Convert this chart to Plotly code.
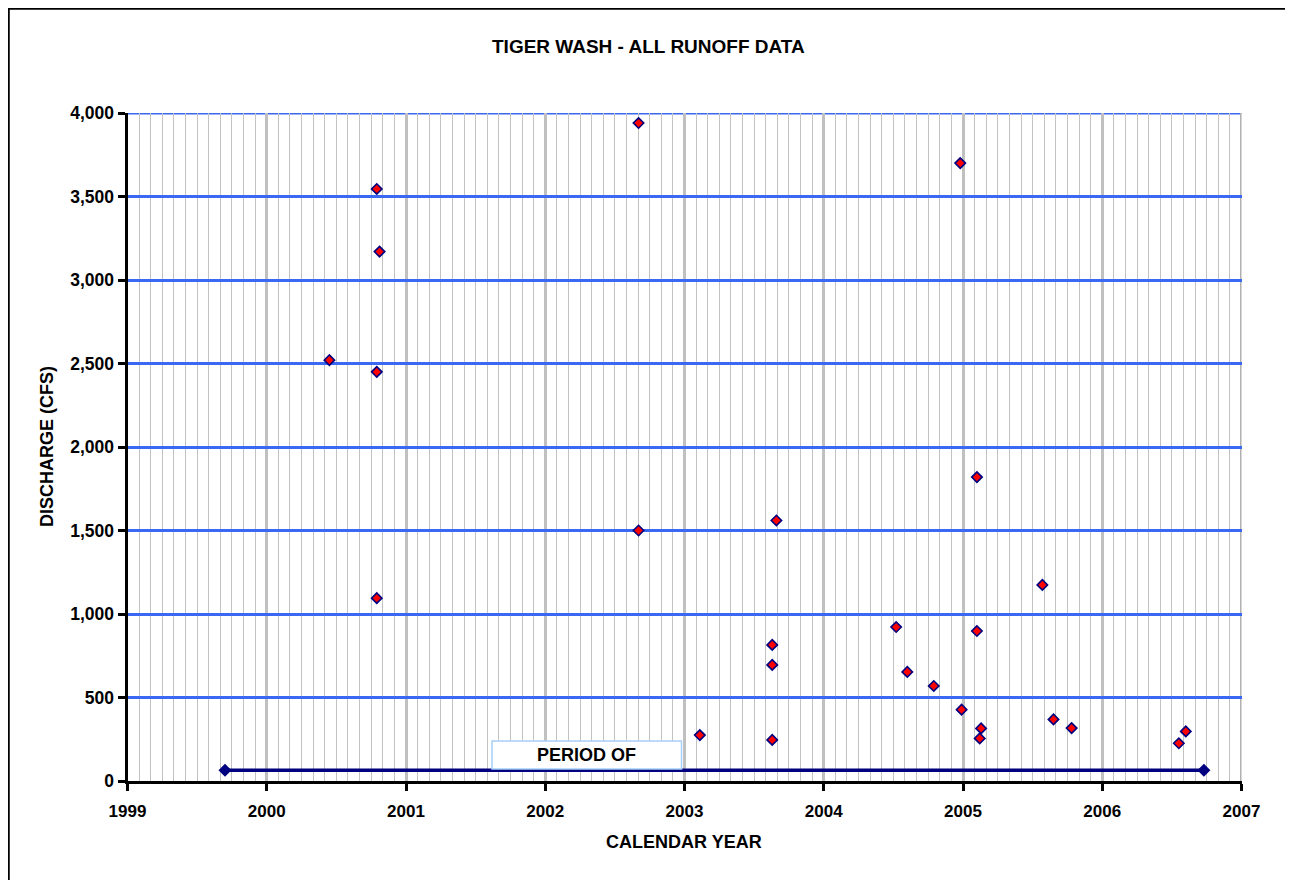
import plotly.graph_objects as go

# ---- data ----
years = [2000.45, 2000.79, 2000.81, 2000.79, 2000.79, 2002.67, 2002.67, 2003.11,
         2003.63, 2003.63, 2003.63, 2003.66, 2004.52, 2004.60, 2004.79, 2004.98,
         2004.99, 2005.10, 2005.10, 2005.13, 2005.12, 2005.57, 2005.65, 2005.78,
         2006.55, 2006.60]
discharge = [2520, 3545, 3170, 2450, 1095, 3940, 1500, 275,
             815, 695, 246, 1560, 922, 653, 569, 3700,
             427, 1820, 898, 315, 255, 1174, 369, 317,
             226, 297]
period_x = [1999.70, 2006.73]
period_y = [65, 65]
x_ticks = [1999, 2000, 2001, 2002, 2003, 2004, 2005, 2006, 2007]
y_ticks = [0, 500, 1000, 1500, 2000, 2500, 3000, 3500, 4000]

W, H = 1293, 880
OFF = 8  # page body margin
FONT = "Arial, Liberation Sans, sans-serif"
BLUE = "#3A68F2"

def px(x):
    return (x - OFF) / W

def py(y):
    return 1 - (y - OFF) / H

fig = go.Figure()

fig.add_trace(go.Scatter(
    x=period_x, y=period_y, mode="lines+markers",
    line=dict(color="#000080", width=3.5),
    marker=dict(symbol="diamond", size=10, color="#000080"),
    showlegend=False, hoverinfo="skip"))

fig.add_trace(go.Scatter(
    x=years, y=discharge, mode="markers",
    marker=dict(symbol="diamond", size=8, color="#FF0000",
                line=dict(color="#000080", width=1.6)),
    showlegend=False))

fig.update_layout(
    template="none",
    width=W, height=H,
    margin=dict(l=0, r=0, t=0, b=0, autoexpand=False),
    showlegend=False,
    paper_bgcolor="white", plot_bgcolor="white",
    font=dict(family=FONT, color="black"),
    xaxis=dict(
        domain=[px(127.5), px(1241.5)],
        range=[x_ticks[0], x_ticks[-1]], tickvals=x_ticks,
        ticktext=[str(v) for v in x_ticks],
        showgrid=True, gridcolor="#C0C0C0", gridwidth=3,
        minor=dict(dtick=1/12, tick0=1999, showgrid=True,
                   gridcolor="#C2C2C2", gridwidth=1, ticks=""),
        showline=True, linecolor="black", linewidth=3,
        ticks="outside", ticklen=7, tickwidth=3, tickcolor="black",
        ticklabelstandoff=6,
        tickfont=dict(size=17, family=FONT, color="black", weight="bold"),
        zeroline=False, fixedrange=True, automargin=False,
    ),
    yaxis=dict(
        domain=[py(781), py(113)],
        range=[y_ticks[0], y_ticks[-1]], tickvals=y_ticks,
        ticktext=[f"{v:,}" for v in y_ticks],
        showgrid=True, gridcolor=BLUE, gridwidth=3,
        showline=True, linecolor="black", linewidth=3,
        ticks="outside", ticklen=7, tickwidth=3, tickcolor="black",
        tickfont=dict(size=17.5, family=FONT, color="black", weight="bold"),
        zeroline=False, fixedrange=True, automargin=False,
    ),
    shapes=[
        # gridlines at the far edges (top 4,000 line and right 2007 line)
        dict(type="line", xref="x", yref="y", x0=x_ticks[0], x1=x_ticks[-1],
             y0=y_ticks[-1], y1=y_ticks[-1], line=dict(color=BLUE, width=3),
             layer="below"),
        dict(type="line", xref="x", yref="y", x0=x_ticks[-1], x1=x_ticks[-1],
             y0=y_ticks[0], y1=y_ticks[-1], line=dict(color="#B0B0B0", width=3),
             layer="below"),
        # outer frame
        dict(type="rect", xref="paper", yref="paper",
             x0=px(8.5), x1=px(1287), y0=py(895), y1=py(8.5),
             line=dict(color="black", width=2.5), fillcolor="rgba(0,0,0,0)",
             layer="above"),
        # text box
        dict(type="rect", xref="paper", yref="paper",
             x0=px(492), x1=px(681.5), y0=py(769), y1=py(741),
             line=dict(color="#A8D0F8", width=1.5), fillcolor="white",
             layer="above"),
    ],
    annotations=[
        dict(text="<b>TIGER WASH - ALL RUNOFF DATA</b>", xref="paper", yref="paper",
             x=px(648), y=py(47), showarrow=False, xanchor="center", yanchor="middle",
             font=dict(size=19, family=FONT, color="black")),
        dict(text="<b>CALENDAR YEAR</b>", xref="paper", yref="paper",
             x=px(684), y=py(842), showarrow=False, xanchor="center", yanchor="middle",
             font=dict(size=18, family=FONT, color="black")),
        dict(text="<b>DISCHARGE (CFS)</b>", xref="paper", yref="paper",
             x=px(47), y=py(447), showarrow=False, xanchor="center", yanchor="middle",
             textangle=-90, font=dict(size=18, family=FONT, color="black")),
        dict(text="<b>PERIOD OF</b>", xref="paper", yref="paper",
             x=px(586.5), y=py(755), showarrow=False, xanchor="center", yanchor="middle",
             font=dict(size=18, family=FONT, color="black")),
    ],
)

fig.write_html("out.html")
